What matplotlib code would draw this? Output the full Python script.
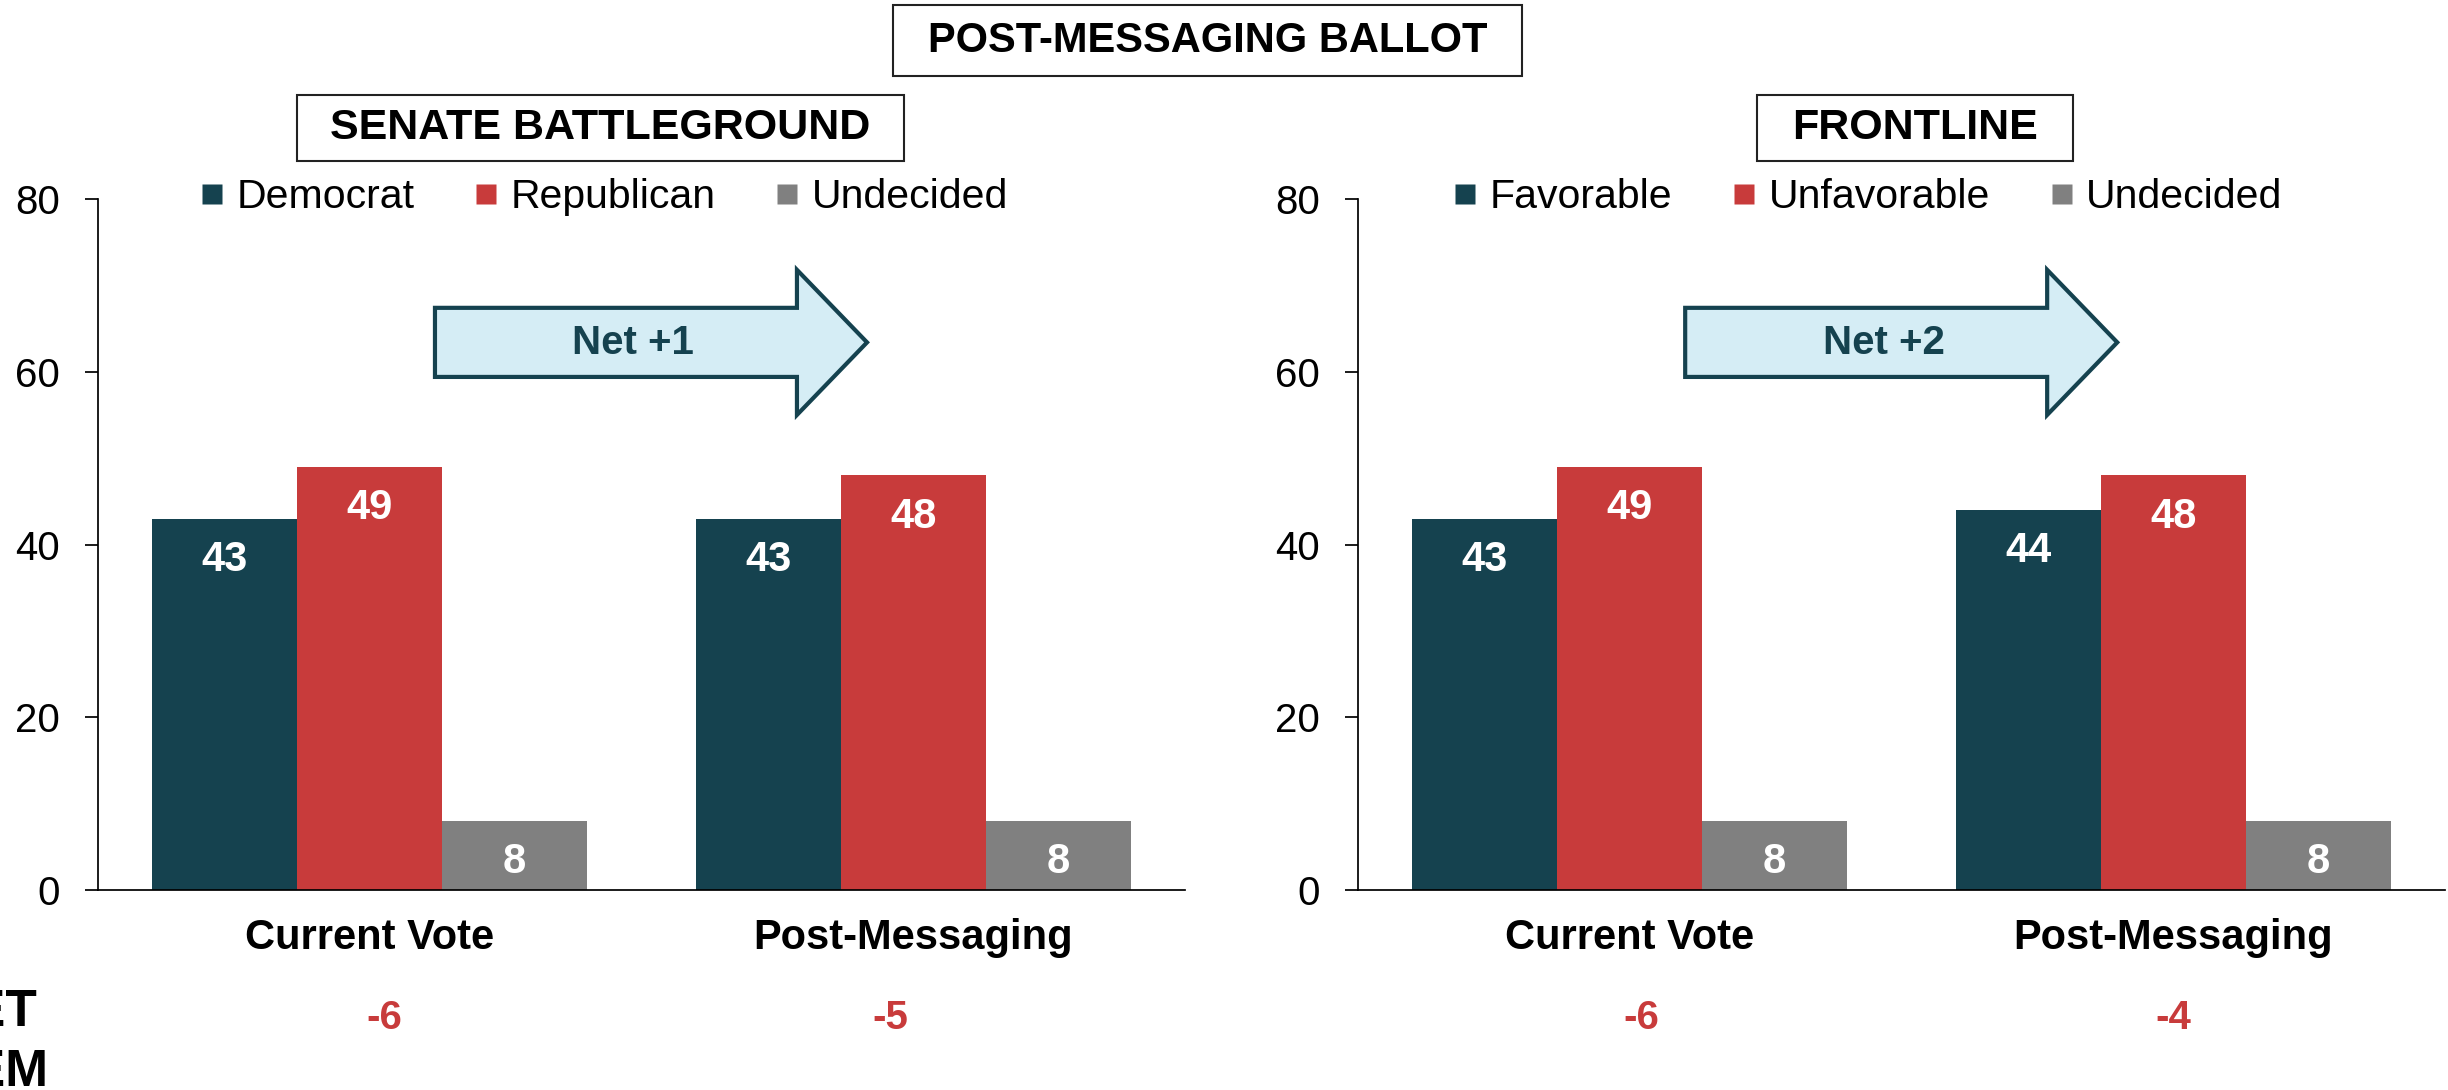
import numpy as np
import matplotlib
matplotlib.use("Agg")
import matplotlib.pyplot as plt
from matplotlib.lines import Line2D
from matplotlib.patches import FancyArrow, Rectangle

plt.rcParams['font.family'] = ['Liberation Sans', 'DejaVu Sans']

# data
groups = ['Current Vote', 'Post-Messaging']

senate_labels = ['Democrat', 'Republican', 'Undecided']
senate_dem = [43, 43]
senate_rep = [49, 48]
senate_und = [8, 8]
senate_net = [-6, -5]
senate_shift = 'Net +1'

front_labels = ['Favorable', 'Unfavorable', 'Undecided']
front_fav = [43, 44]
front_unf = [49, 48]
front_und = [8, 8]
front_net = [-6, -4]
front_shift = 'Net +2'

yticks = [0, 20, 40, 60, 80]

blue = '#15424F'
red = '#C83B3B'
grey = '#808080'
arrow_fill = '#D5EDF5'

W, H = 2448, 1090
fig = plt.figure(figsize=(W / 100, H / 100), dpi=100)

ax1 = fig.add_axes([98 / W, 200 / H, 1087 / W, 691 / H])
ax2 = fig.add_axes([1358 / W, 200 / H, 1087 / W, 691 / H])


def panel(ax, series, labels, nets, shift, arrow_x, net_dx, leg_x):
    x = np.arange(len(groups))
    w = 0.8 / 3
    colors = [blue, red, grey]
    for i, (vals, c) in enumerate(zip(series, colors)):
        bars = ax.bar(x + (i - 1) * w, vals, w, color=c, edgecolor='none')
        ax.bar_label(bars, padding=-44, color='white', fontsize=30,
                     fontweight='bold')

    ax.set_xlim(-0.5, 1.5)
    ax.set_ylim(0, 80)
    ax.set_yticks(yticks)
    ax.set_xticks([])
    ax.tick_params(axis='y', direction='out', length=9.4, width=1.25,
                   pad=18, labelsize=29)
    for s in ['top', 'right']:
        ax.spines[s].set_visible(False)
    for s in ['left', 'bottom']:
        ax.spines[s].set_linewidth(1.25)

    tr = ax.get_xaxis_transform()
    for xi, g in zip(x, groups):
        ax.text(xi, -0.0695, g, transform=tr, ha='center', va='center',
                fontsize=30, fontweight='bold')
    for xi, n, dx in zip(x, nets, net_dx):
        ax.text(xi + dx, -0.185, str(n), transform=tr,
                ha='center', va='center', fontsize=29, fontweight='bold',
                color=red)

    # shift arrow
    arr = FancyArrow(arrow_x, 63.4, 0.795, 0, width=8.0, head_width=16.8,
                     head_length=0.129, length_includes_head=True,
                     facecolor=arrow_fill, edgecolor=blue, linewidth=3,
                     joinstyle='miter', zorder=3)
    ax.add_patch(arr)
    ax.text(arrow_x + 0.365, 63.3, shift, ha='center', va='center',
            fontsize=29, fontweight='bold', color=blue, zorder=4)

    handles = [Line2D([], [], marker='s', linestyle='none', markersize=15,
                      markerfacecolor=c, markeredgecolor='none')
               for c in colors]
    ax.legend(handles, labels, loc='center', bbox_to_anchor=(leg_x, 1.003),
              ncol=3, frameon=False, fontsize=29.5, handlelength=0.6,
              handletextpad=0.3, columnspacing=1.45, borderpad=0,
              borderaxespad=0)


panel(ax1, [senate_dem, senate_rep, senate_und], senate_labels, senate_net,
      senate_shift, 0.12, [0.026, -0.043], 0.4655)
panel(ax2, [front_fav, front_unf, front_und], front_labels, front_net,
      front_shift, 0.102, [0.022, 0.0], 0.469)


def boxed(x0, x1, y0, y1, text, size):
    fig.patches.append(Rectangle((x0 / W, 1 - y1 / H), (x1 - x0) / W,
                                 (y1 - y0) / H, transform=fig.transFigure,
                                 facecolor='white', edgecolor='#222222',
                                 linewidth=1.5))
    fig.text((x0 + x1) / 2 / W, 1 - (y0 + y1) / 2 / H, text, ha='center',
             va='center', fontsize=size, fontweight='bold')


boxed(893, 1522, 5, 76, 'POST-MESSAGING BALLOT', 30)
boxed(297, 904, 95, 161, 'SENATE BATTLEGROUND', 31)
boxed(1757, 2073, 95, 161, 'FRONTLINE', 31)

# row label, partly off the left edge as in the source
fig.text(-65 / W, 1 - 1013 / H, 'NET', ha='left', va='center', fontsize=37,
         fontweight='bold')
fig.text(-65 / W, 1 - 1072 / H, 'DEM', ha='left', va='center', fontsize=37,
         fontweight='bold')

fig.savefig('out.png', dpi=100)
